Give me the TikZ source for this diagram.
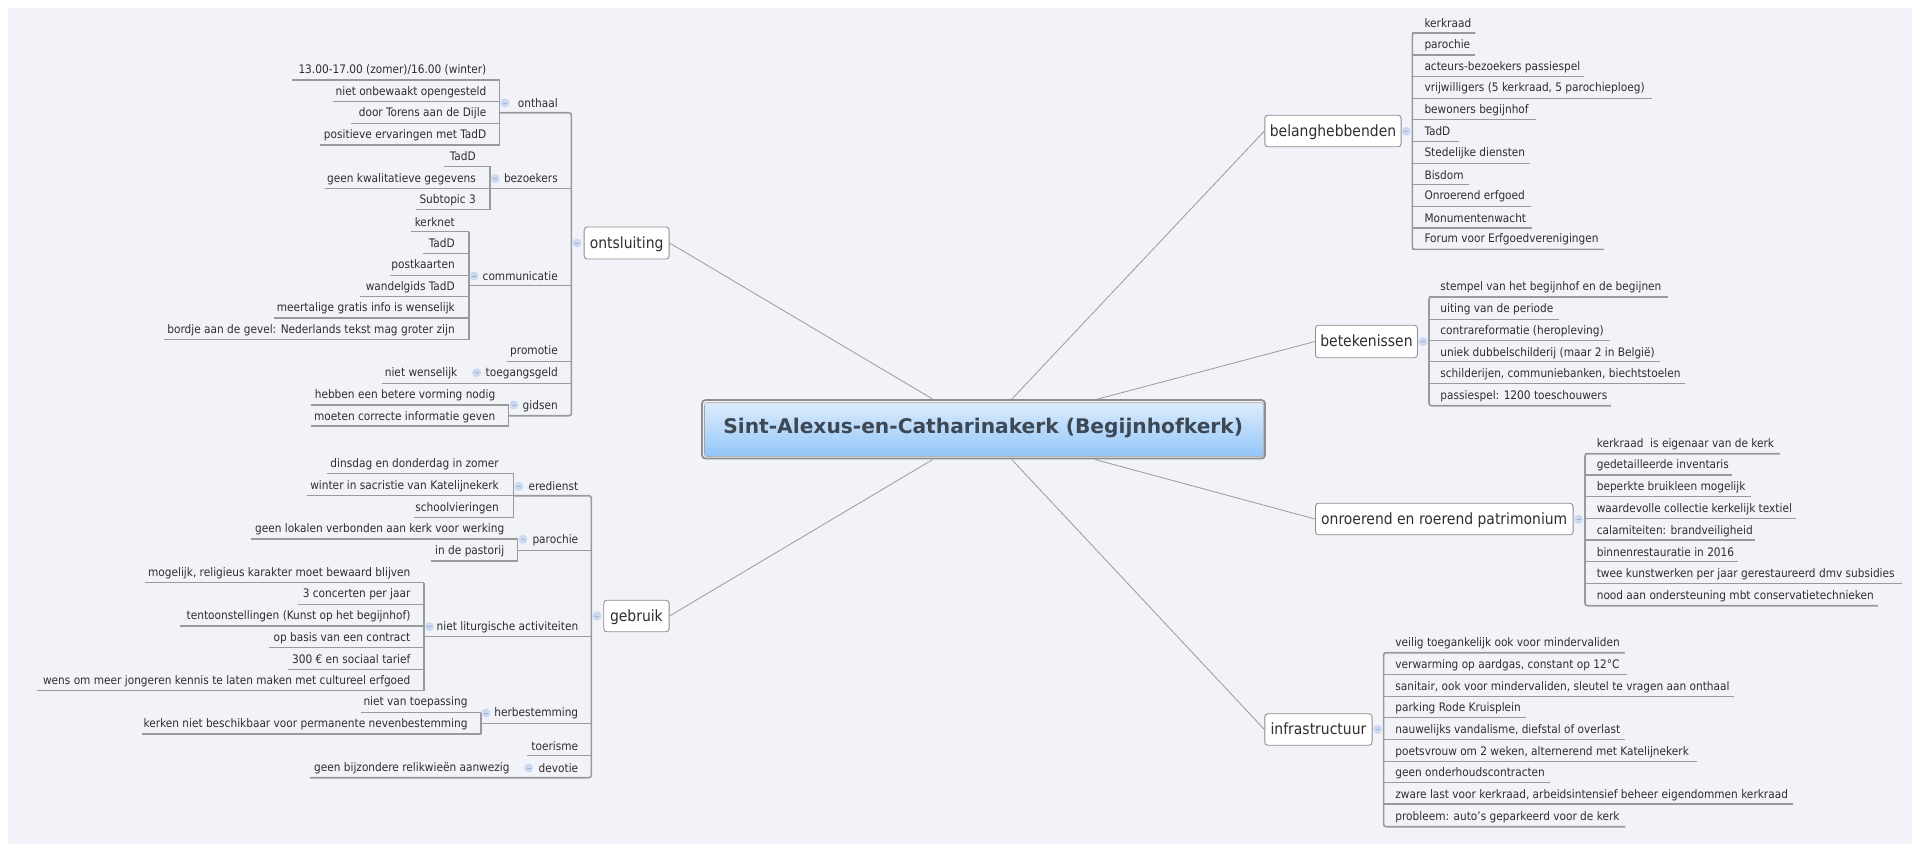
\documentclass[tikz,border=0pt]{standalone}
\usepackage{fontspec}
\setmainfont{DejaVu Sans Condensed}
\newfontfamily\titlefont{DejaVu Sans}[BoldFont={DejaVu Sans Bold}]
\usetikzlibrary{calc}
\definecolor{bgc}{HTML}{F1F3F9}
\definecolor{linec}{HTML}{9A9A9A}
\definecolor{boxc}{HTML}{8E8E8E}
\definecolor{txtc}{HTML}{2E2E2E}
\definecolor{circc}{HTML}{CBD9F0}
\definecolor{circd}{HTML}{9DB4D8}
\definecolor{rtop}{HTML}{DDECFC}
\definecolor{rbot}{HTML}{92C5F8}
\definecolor{rtxt}{HTML}{3E4854}
\tikzset{
 x=1pt,y=-1pt,
 itemtext/.style={inner sep=0pt,font=\fontsize{11.75}{13}\selectfont,text=txtc,text height=10pt,text depth=1.5pt},
 topictext/.style={rectangle,rounded corners=3pt,draw=boxc,fill=white,line width=.9pt,inner sep=0pt,font=\fontsize{15.5}{18}\selectfont,text=txtc,text height=12pt,text depth=2pt},
 ul/.style={draw=linec,line width=1.2pt},
 trunk/.style={draw=linec,line width=1.6pt,rounded corners=2.5pt},
 spoke/.style={draw=linec,line width=.8pt},
 collapse/.style={circle,fill=circc,inner sep=0pt,minimum size=9pt},
}
\newcommand{\lit}[7]{\node[itemtext,anchor=east] (#1) at (#3,#5) {#7};
 \coordinate (#1-a) at (#2,#6); \coordinate (#1-b) at (#4,#6);
 \draw[ul] (#1-a) -- (#1-b);}
\newcommand{\rit}[7]{\node[itemtext,anchor=west] (#1) at (#3,#5) {#7};
 \coordinate (#1-a) at (#2,#6); \coordinate (#1-b) at (#4,#6);
 \draw[ul] (#1-a) -- (#1-b);}
\newcommand{\cmark}[3]{\node[collapse] (#1) at (#2,#3) {};
 \draw[circd,line width=.7pt] ($(#1)+(-2,0)$) -- ($(#1)+(2,0)$);}
\newcommand{\topicbox}[6]{\node[topictext,minimum width=#3pt,minimum height=#4pt,anchor=west] (#1) at (#2,#5) {#6};}
\begin{document}
\begin{tikzpicture}
\useasboundingbox (0,0) rectangle (1912,844);
\fill[white] (0,0) rectangle (1912,844);
\fill[bgc] (8,8) rectangle (1912,844);
% ---- root
\node[rectangle,rounded corners=3.5pt,draw=boxc,line width=1.8pt,minimum width=563pt,minimum height=58.5pt,inner sep=0pt] (frame) at (983.5,429.3) {};
\path[top color=rtop,bottom color=rbot,rounded corners=2.5pt,draw=boxc!80,line width=.6pt] (704.5,402.7) rectangle (1263.7,456.7);
\node[inner sep=0pt,font=\titlefont\bfseries\fontsize{20.2}{24}\selectfont,text=rtxt] (root) at (983.2,428) {Sint-Alexus-en-Catharinakerk (Begijnhofkerk)};
% ---- main topics
\topicbox{ontsluiting}{583.7}{85}{32}{243}{ontsluiting}
\topicbox{gebruik}{603.3}{65.3}{31.5}{616}{gebruik}
\topicbox{belang}{1264.4}{136.3}{31.5}{131}{belanghebbenden}
\topicbox{betek}{1315}{102}{32.5}{341.5}{betekenissen}
\topicbox{onroer}{1315}{257.6}{31.5}{519}{onroerend en roerend patrimonium}
\topicbox{infra}{1264.4}{107.2}{31.5}{729.5}{infrastructuur}
\foreach \t/\a in {ontsluiting/east,gebruik/east,belang/west,betek/west,onroer/west,infra/west}
  \draw[spoke] (frame) -- (\t.\a);
% ---- ontsluiting
\draw[trunk] (500,112.7) -- (571.4,112.7) -- (571.4,415.7) -- (509,415.7);
\lit{c1}{490}{558}{571.4}{178.7}{188.7}{bezoekers}
\lit{c2}{469}{558}{571.4}{276}{285.3}{communicatie}
\lit{c3}{507}{558}{571.4}{350.7}{361.3}{promotie}
\lit{c4}{381.6}{558}{571.4}{372.7}{383.3}{toegangsgeld}
\node[itemtext,anchor=east] (c0) at (558,103) {onthaal};
\node[itemtext,anchor=east] (c5) at (558,405.3) {gidsen};
\lit{a1}{292}{486.5}{499.6}{69.5}{80}{13.00-17.00 (zomer)/16.00 (winter)}
\lit{a2}{333}{486.5}{499.6}{91}{101.5}{niet onbewaakt opengesteld}
\lit{a3}{351}{486.5}{499.6}{112.7}{123.3}{door Torens aan de Dijle}
\lit{a4}{320}{486.5}{499.6}{134.5}{145}{positieve ervaringen met TadD}
\draw[trunk] (a1-b) -- (a4-b);
\lit{b1}{444}{476}{490}{156.7}{166.3}{TadD}
\lit{b2}{325}{476}{490}{178}{188.7}{geen kwalitatieve gegevens}
\lit{b3}{416}{476}{490}{199.5}{209.7}{Subtopic 3}
\draw[trunk] (b1-b) -- (b3-b);
\lit{d1}{411}{455}{469}{222}{231.7}{kerknet}
\lit{d2}{423}{455}{469}{243.7}{253.7}{TadD}
\lit{d3}{390}{455}{469}{264.7}{275.3}{postkaarten}
\lit{d4}{360}{455}{469}{286}{296.3}{wandelgids TadD}
\lit{d5}{273.5}{455}{469}{307.7}{318}{meertalige gratis info is wenselijk}
\lit{d6}{164}{455}{469}{329.3}{339.7}{bordje aan de gevel: Nederlands tekst mag groter zijn}
\draw[trunk] (d1-b) -- (d6-b);
\node[itemtext,anchor=east] (e1) at (457.5,372.7) {niet wenselijk};
\lit{f1}{311}{495.5}{508.6}{394.3}{405}{hebben een betere vorming nodig}
\lit{f2}{311}{495.5}{508.6}{416}{426}{moeten correcte informatie geven}
\draw[trunk] (f1-b) -- (f2-b);
\cmark{m0}{577}{243}\cmark{m1}{505}{103}\cmark{m2}{495}{178.7}\cmark{m3}{474}{276}\cmark{m4}{476.7}{372.7}\cmark{m5}{514}{405}
% ---- gebruik
\draw[trunk] (513.5,495.7) -- (591.4,495.7) -- (591.4,777.7) -- (309.8,777.7);
\node[itemtext,anchor=east] (g0) at (578.4,486.3) {eredienst};
\lit{g1}{517.5}{578.4}{591.4}{539.3}{550.3}{parochie}
\lit{g2}{424}{578.4}{591.4}{626}{636.7}{niet liturgische activiteiten}
\lit{g3}{480.8}{578.4}{591.4}{712.7}{723.3}{herbestemming}
\lit{g4}{527.3}{578.4}{591.4}{746}{755.7}{toerisme}
\node[itemtext,anchor=east] (g5) at (578.4,768) {devotie};
\lit{h1}{326.5}{499}{513.5}{463.7}{473.7}{dinsdag en donderdag in zomer}
\lit{h2}{306.5}{499}{513.5}{485.3}{495.7}{winter in sacristie van Katelijnekerk}
\lit{h3}{414}{499}{513.5}{507}{517.7}{schoolvieringen}
\draw[trunk] (h1-b) -- (h3-b);
\lit{i1}{250.6}{504.5}{517.5}{528.7}{539}{geen lokalen verbonden aan kerk voor werking}
\lit{i2}{431}{504.5}{517.5}{550.3}{561}{in de pastorij}
\draw[trunk] (i1-b) -- (i2-b);
\lit{j1}{144.5}{410.6}{424}{572}{582.7}{mogelijk, religieus karakter moet bewaard blijven}
\lit{j2}{298}{410.6}{424}{593.7}{604.3}{3 concerten per jaar}
\lit{j3}{180.4}{410.6}{424}{615}{626}{tentoonstellingen (Kunst op het begijnhof)}
\lit{j4}{269.4}{410.6}{424}{637}{647.7}{op basis van een contract}
\lit{j5}{288}{410.6}{424}{659}{669.3}{300 € en sociaal tarief}
\lit{j6}{37}{410.6}{424}{680}{690.7}{wens om meer jongeren kennis te laten maken met cultureel erfgoed}
\draw[trunk] (j1-b) -- (j6-b);
\lit{k1}{360.8}{467.8}{480.8}{701.7}{712.7}{niet van toepassing}
\lit{k2}{141.6}{467.8}{480.8}{723.3}{734}{kerken niet beschikbaar voor permanente nevenbestemming}
\draw[trunk] (k1-b) -- (k2-b);
\node[itemtext,anchor=east] (l1) at (509.8,767) {geen bijzondere relikwieën aanwezig};
\cmark{n0}{597}{616}\cmark{n1}{518.8}{486.3}\cmark{n2}{523}{539.3}\cmark{n3}{429.4}{626.7}\cmark{n4}{486}{713}\cmark{n5}{528.6}{768}
% ---- belanghebbenden
\rit{p1}{1412.3}{1424.3}{1475.3}{23.3}{33}{kerkraad}
\rit{p2}{1412.3}{1424.3}{1475}{44}{55}{parochie}
\rit{p3}{1412.3}{1424.3}{1583.8}{66}{76.7}{acteurs-bezoekers passiespel}
\rit{p4}{1412.3}{1424.3}{1651.5}{87.7}{98.3}{vrijwilligers (5 kerkraad, 5 parochieploeg)}
\rit{p5}{1412.3}{1424.3}{1535.8}{109}{119.3}{bewoners begijnhof}
\rit{p6}{1412.3}{1424.3}{1458.6}{131.7}{141.7}{TadD}
\rit{p7}{1412.3}{1424.3}{1529.8}{152.3}{163.3}{Stedelijke diensten}
\rit{p8}{1412.3}{1424.3}{1468.5}{175}{184.7}{Bisdom}
\rit{p9}{1412.3}{1424.3}{1530.6}{195.7}{206.7}{Onroerend erfgoed}
\rit{p10}{1412.3}{1424.3}{1531.5}{218.3}{228}{Monumentenwacht}
\rit{p11}{1412.3}{1424.3}{1603.5}{238.7}{249.3}{Forum voor Erfgoedverenigingen}
\draw[trunk] (p1-b) -- (p1-a) -- (p11-a) -- (p11-b);
% ---- betekenissen
\rit{q1}{1429}{1440.2}{1667.8}{286.7}{297}{stempel van het begijnhof en de begijnen}
\rit{q2}{1429}{1440.2}{1558.5}{308.7}{319.3}{uiting van de periode}
\rit{q3}{1429}{1440.2}{1609.5}{330}{340.7}{contrareformatie (heropleving)}
\rit{q4}{1429}{1440.2}{1660}{352}{361.7}{uniek dubbelschilderij (maar 2 in België)}
\rit{q5}{1429}{1440.2}{1685}{373}{383.7}{schilderijen, communiebanken, biechtstoelen}
\rit{q6}{1429}{1440.2}{1610.8}{395}{405.7}{passiespel: 1200 toeschouwers}
\draw[trunk] (q1-b) -- (q1-a) -- (q6-a) -- (q6-b);
% ---- onroerend
\rit{r1}{1585}{1596.6}{1780}{443}{453.7}{kerkraad\ \ is eigenaar van de kerk}
\rit{r2}{1585}{1596.6}{1732}{464.7}{475}{gedetailleerde inventaris}
\rit{r3}{1585}{1596.6}{1750.5}{486}{496.7}{beperkte bruikleen mogelijk}
\rit{r4}{1585}{1596.6}{1795.5}{508}{518.7}{waardevolle collectie kerkelijk textiel}
\rit{r5}{1585}{1596.6}{1754.8}{530}{540}{calamiteiten: brandveiligheid}
\rit{r6}{1585}{1596.6}{1737.6}{552}{561.7}{binnenrestauratie in 2016}
\rit{r7}{1585}{1596.6}{1902}{573}{583.7}{twee kunstwerken per jaar gerestaureerd dmv subsidies}
\rit{r8}{1585}{1596.6}{1877.8}{595}{605.7}{nood aan ondersteuning mbt conservatietechnieken}
\draw[trunk] (r1-b) -- (r1-a) -- (r8-a) -- (r8-b);
% ---- infrastructuur
\rit{s1}{1383.6}{1395.2}{1624.5}{642.3}{652.7}{veilig toegankelijk ook voor mindervaliden}
\rit{s2}{1383.6}{1395.2}{1626.6}{664}{674.7}{verwarming op aardgas, constant op 12°C}
\rit{s3}{1383.6}{1395.2}{1734}{686}{696.7}{sanitair, ook voor mindervaliden, sleutel te vragen aan onthaal}
\rit{s4}{1383.6}{1395.2}{1525.5}{707}{717.7}{parking Rode Kruisplein}
\rit{s5}{1383.6}{1395.2}{1624.5}{729}{739.3}{nauwelijks vandalisme, diefstal of overlast}
\rit{s6}{1383.6}{1395.2}{1697.4}{751}{761.3}{poetsvrouw om 2 weken, alternerend met Katelijnekerk}
\rit{s7}{1383.6}{1395.2}{1549.5}{772}{782.7}{geen onderhoudscontracten}
\rit{s8}{1383.6}{1395.2}{1793}{794}{804}{zware last voor kerkraad, arbeidsintensief beheer eigendommen kerkraad}
\rit{s9}{1383.6}{1395.2}{1625.3}{816}{826.7}{probleem: auto's geparkeerd voor de kerk}
\draw[trunk] (s1-b) -- (s1-a) -- (s9-a) -- (s9-b);
\cmark{t1}{1406.3}{131.3}\cmark{t2}{1423}{341.7}\cmark{t3}{1578.6}{519.3}\cmark{t4}{1377.6}{729.3}
\end{tikzpicture}
\end{document}
